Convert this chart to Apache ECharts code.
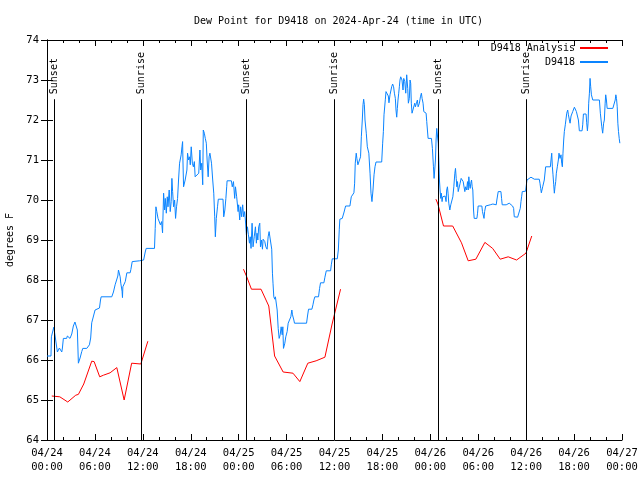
<!DOCTYPE html>
<html>
<head>
<meta charset="utf-8">
<script src="https://cdn.jsdelivr.net/npm/echarts@6/dist/echarts.min.js"></script>
<style>html,body{margin:0;padding:0;background:#fff}#c{width:640px;height:480px}</style>
</head>
<body>
<div id="c"></div>
<script>
// Hours since 2024-04-24 00:00 UTC, dew point in degrees F
const xTickLabels = ['04/24\n00:00','04/24\n06:00','04/24\n12:00','04/24\n18:00','04/25\n00:00','04/25\n06:00','04/25\n12:00','04/25\n18:00','04/26\n00:00','04/26\n06:00','04/26\n12:00','04/26\n18:00','04/27\n00:00'];
const yTicks = [64,65,66,67,68,69,70,71,72,73,74];

const analysisDay1 = [[0.6,65.1],[1.6,65.08],[2.6,64.95],[3.6,65.12],[3.93,65.14],[4.6,65.4],[4.85,65.42],[5.6,65.97],[5.9,65.96],[6.6,65.58],[7.07,65.62],[7.9,65.68],[8.74,65.81],[8.95,65.8],[9.66,65.0],[9.9,65.02],[10.6,65.92],[11.75,65.9],[12.63,66.47]];
const analysisDay2 = [[24.6,68.27],[24.97,68.1],[25.6,67.77],[26.8,67.77],[27.77,67.35],[28.5,66.1],[29.57,65.7],[30.8,65.67],[31.66,65.46],[32.66,65.92],[33.7,65.98],[34.8,66.07],[35.7,66.9],[36.76,67.77]];
const analysisDay3 = [[48.7,70.02],[48.95,69.9],[49.65,69.35],[50.8,69.35],[51.9,68.93],[52.74,68.48],[53.7,68.52],[54.83,68.94],[55.8,68.79],[56.75,68.52],[57.75,68.58],[58.8,68.5],[59.97,68.67],[60.7,69.1]];

const observations = [
[0.0,66.1],[0.5,66.1],[0.55,66.58],[0.75,66.58],[0.85,66.82],[0.9,66.82],[1.05,66.55],[1.3,66.2],[1.42,66.2],[1.55,66.3],[1.72,66.3],[1.85,66.2],[1.93,66.3],[2.05,66.54],[2.46,66.54],[2.55,66.6],[2.8,66.6],[2.88,66.54],[3.1,66.65],[3.3,66.85],[3.5,66.95],[3.72,66.95],[3.8,66.75],[3.93,65.92],[4.14,66.05],[4.35,66.21],[4.48,66.29],[4.98,66.29],[5.06,66.25],[5.31,66.38],[5.47,66.55],[5.6,66.93],[5.81,66.93],[6.02,67.25],[6.15,67.3],[6.57,67.3],[6.7,67.5],[6.78,67.58],[8.11,67.58],[8.32,67.7],[8.53,67.88],[8.66,67.93],[8.74,67.92],[8.87,68.1],[8.95,68.25],[9.07,68.25],[9.16,68.08],[9.24,67.92],[9.4,67.72],[9.45,67.56],[9.5,67.83],[9.66,67.85],[9.8,67.96],[10.0,68.18],[10.41,68.18],[10.5,68.26],[10.67,68.46],[10.83,68.48],[11.58,68.48],[11.75,68.5],[12.1,68.5],[12.3,68.7],[12.42,68.79],[13.46,68.79],[13.55,69.29],[13.64,69.83],[13.75,69.71],[13.9,69.54],[14.1,69.5],[14.2,69.38],[14.35,69.46],[14.47,69.18],[14.6,70.17],[14.73,69.75],[14.81,70.04],[14.94,69.67],[15.06,70.08],[15.15,69.83],[15.3,70.25],[15.43,69.71],[15.55,69.96],[15.64,70.54],[15.73,70.21],[15.85,69.83],[15.98,70.0],[16.1,69.54],[16.22,69.83],[16.35,70.04],[16.47,70.5],[16.6,70.92],[16.7,70.92],[16.8,71.13],[16.9,71.33],[16.98,71.46],[17.02,71.0],[17.1,70.33],[17.3,70.5],[17.45,70.54],[17.52,70.75],[17.6,71.17],[17.73,71.0],[17.85,71.08],[17.94,70.88],[18.06,71.33],[18.2,70.92],[18.33,70.83],[18.45,70.96],[18.55,70.58],[18.8,70.58],[19.0,70.67],[19.15,71.25],[19.25,70.75],[19.38,70.92],[19.5,70.38],[19.57,71.75],[19.7,71.67],[19.82,71.54],[19.95,71.42],[20.05,71.0],[20.18,70.58],[20.3,71.08],[20.4,71.17],[20.5,71.21],[20.6,70.92],[20.75,70.5],[20.88,70.17],[21.0,69.58],[21.08,69.08],[21.2,69.54],[21.35,69.83],[21.45,70.02],[22.04,70.02],[22.13,69.58],[22.27,69.75],[22.4,70.04],[22.5,70.33],[22.55,70.48],[23.09,70.48],[23.2,70.33],[23.35,70.46],[23.5,70.04],[23.6,70.33],[23.75,70.08],[23.93,69.71],[24.0,69.88],[24.13,69.5],[24.25,69.83],[24.38,69.58],[24.5,69.88],[24.62,69.58],[24.75,69.71],[24.84,69.5],[24.97,69.13],[25.1,69.33],[25.22,69.13],[25.35,68.92],[25.45,69.08],[25.55,68.79],[25.68,69.42],[25.8,68.83],[25.95,69.08],[26.1,69.33],[26.22,68.92],[26.3,69.17],[26.4,69.0],[26.51,69.33],[26.64,69.42],[26.73,68.83],[26.85,69.0],[26.98,68.77],[27.06,69.02],[27.27,68.96],[27.4,68.83],[27.56,68.77],[27.69,69.08],[27.81,69.21],[27.98,69.17],[28.14,68.77],[28.23,68.17],[28.3,67.92],[28.4,67.58],[28.52,67.52],[28.6,67.58],[28.72,67.58],[28.82,67.25],[28.95,66.79],[29.07,66.54],[29.2,66.63],[29.32,66.83],[29.45,66.63],[29.53,66.83],[29.61,66.29],[29.78,66.42],[29.9,66.58],[30.07,66.71],[30.2,66.92],[30.41,66.92],[30.53,67.08],[30.66,67.25],[30.74,67.13],[30.91,67.0],[30.99,66.92],[32.5,66.92],[32.62,67.1],[32.75,67.27],[33.17,67.27],[33.3,67.38],[33.42,67.5],[33.54,67.58],[34.0,67.58],[34.13,67.79],[34.25,67.93],[34.67,67.93],[34.8,68.07],[34.97,68.23],[35.51,68.23],[35.6,68.38],[35.72,68.53],[36.35,68.53],[36.48,68.75],[36.6,69.27],[36.67,69.52],[36.97,69.54],[37.2,69.7],[37.39,69.85],[37.93,69.85],[38.1,70.08],[38.43,70.18],[38.52,70.42],[38.6,70.92],[38.72,71.17],[38.8,71.04],[38.93,70.88],[39.18,70.88],[39.26,71.08],[39.36,71.58],[39.48,72.0],[39.57,72.38],[39.65,72.52],[39.74,72.38],[39.82,72.0],[39.98,71.67],[40.11,71.33],[40.3,71.17],[40.45,70.67],[40.57,70.17],[40.69,69.96],[40.82,70.25],[40.95,70.63],[41.07,70.83],[41.2,70.95],[41.91,70.95],[42.03,71.42],[42.12,71.71],[42.2,72.13],[42.37,72.52],[42.45,72.71],[42.62,72.71],[42.74,72.6],[42.82,72.43],[42.95,72.63],[43.08,72.58],[43.16,72.83],[43.28,72.9],[43.4,72.83],[43.5,72.67],[43.62,72.54],[43.7,72.25],[43.79,72.07],[43.87,72.29],[43.95,72.5],[44.04,72.67],[44.12,72.83],[44.2,73.0],[44.29,73.08],[44.37,73.13],[44.45,73.0],[44.58,72.75],[44.67,73.04],[44.8,72.96],[44.92,72.67],[45.04,73.13],[45.17,72.79],[45.25,72.42],[45.37,72.54],[45.46,73.0],[45.54,72.92],[45.62,72.42],[45.71,72.17],[45.83,72.17],[45.96,72.21],[46.05,72.42],[46.13,72.33],[46.26,72.42],[46.38,72.5],[46.47,72.33],[46.55,72.37],[46.63,72.42],[46.76,72.58],[46.88,72.67],[46.97,72.54],[47.09,72.42],[47.18,72.21],[47.3,72.17],[47.47,72.17],[47.55,71.96],[47.72,71.54],[48.14,71.54],[48.26,71.29],[48.39,70.83],[48.47,70.54],[48.55,70.75],[48.64,71.0],[48.72,71.5],[48.8,71.79],[48.9,71.75],[48.99,71.42],[49.06,71.0],[49.14,70.5],[49.22,70.25],[49.3,70.04],[49.38,70.17],[49.47,69.96],[49.55,70.08],[49.64,70.13],[49.73,70.04],[49.85,70.1],[49.97,69.96],[50.05,70.25],[50.14,70.33],[50.22,70.17],[50.31,69.92],[50.44,69.75],[50.56,69.88],[50.69,69.83],[50.82,70.08],[50.94,70.33],[51.07,70.67],[51.15,70.79],[51.24,70.54],[51.32,70.33],[51.4,70.46],[51.49,70.21],[51.57,70.25],[51.73,70.42],[51.86,70.54],[51.99,70.5],[52.11,70.46],[52.24,70.48],[52.32,70.21],[52.41,70.33],[52.53,70.25],[52.66,70.46],[52.74,70.25],[52.82,70.58],[52.91,70.38],[52.99,70.29],[53.07,70.42],[53.16,70.5],[53.24,70.33],[53.32,70.25],[53.41,69.75],[53.49,69.54],[53.83,69.54],[53.91,69.67],[53.99,69.85],[54.45,69.85],[54.53,69.71],[54.62,69.71],[54.72,69.54],[54.8,69.71],[54.93,69.85],[55.0,69.88],[55.5,69.88],[55.58,69.9],[55.83,69.9],[56.0,69.88],[56.25,69.88],[56.33,70.0],[56.5,70.21],[56.84,70.21],[56.92,70.04],[57.0,69.88],[57.5,69.88],[57.67,69.9],[57.88,69.92],[58.09,69.88],[58.3,69.85],[58.43,69.79],[58.51,69.58],[58.93,69.57],[59.18,69.54],[59.26,69.79],[59.35,69.96],[59.43,70.08],[59.51,70.21],[59.76,70.21],[59.93,70.22],[60.1,70.5],[60.27,70.52],[60.6,70.57],[60.85,70.57],[61.02,70.52],[61.64,70.52],[61.73,70.42],[61.82,70.29],[61.9,70.18],[61.98,70.25],[62.07,70.33],[62.27,70.5],[62.44,70.83],[63.03,70.83],[63.11,71.0],[63.2,71.17],[63.28,70.83],[63.36,70.63],[63.45,70.38],[63.53,70.17],[63.61,70.33],[63.7,70.46],[63.78,70.67],[63.9,70.83],[64.03,71.0],[64.11,71.17],[64.24,71.04],[64.36,71.13],[64.45,70.92],[64.53,70.83],[64.61,71.17],[64.7,71.5],[64.78,71.71],[64.9,71.88],[64.99,71.92],[65.08,72.17],[65.2,72.25],[65.29,72.13],[65.41,72.0],[65.5,71.92],[65.62,72.1],[65.83,72.21],[66.04,72.32],[66.16,72.27],[66.29,72.21],[66.46,72.18],[66.54,72.0],[66.66,71.73],[67.0,71.73],[67.08,71.88],[67.17,72.15],[67.5,72.15],[67.58,71.93],[67.67,71.73],[67.75,71.92],[67.83,72.42],[67.92,72.67],[68.0,73.04],[68.08,72.83],[68.17,72.63],[68.34,72.5],[69.17,72.5],[69.29,72.17],[69.47,71.83],[69.58,71.67],[69.7,71.92],[69.79,72.0],[69.89,72.42],[69.96,72.63],[70.05,72.5],[70.14,72.29],[70.85,72.29],[71.06,72.29],[71.15,72.5],[71.23,72.63],[71.31,72.54],[71.4,72.33],[71.48,71.92],[71.56,71.71],[71.65,71.54],[71.73,71.42]
];

const eventTimes = [0.92, 11.83, 24.95, 35.92, 48.97, 60.0];
const eventNames = ['Sunset','Sunrise','Sunset','Sunrise','Sunset','Sunrise'];
const eventLineTop = 72.52;

const FONT = 'DejaVu Sans Mono';
const chart = echarts.init(document.getElementById('c'), null, {renderer: 'canvas'});

const xBase = {
  type: 'value', min: 0, max: 72, interval: 6,
  axisLine: {show: true, lineStyle: {color: '#000', width: 1}},
  axisTick: {show: true, inside: true, length: 6, lineStyle: {color: '#000'}},
  minorTick: {show: true, splitNumber: 3, length: 3, lineStyle: {color: '#000'}},
  splitLine: {show: false}, minorSplitLine: {show: false}
};
const yBase = {
  type: 'value', min: 64, max: 74, interval: 1,
  axisLine: {show: true, lineStyle: {color: '#000', width: 1}},
  axisTick: {show: true, inside: true, length: 6, lineStyle: {color: '#000'}},
  splitLine: {show: false}
};

const redStyle = {type: 'line', name: 'D9418 Analysis', symbol: 'none', color: '#ff0000',
  lineStyle: {color: '#ff0000', width: 1}, xAxisIndex: 0, yAxisIndex: 0, z: 3};

chart.setOption({
  animation: false,
  backgroundColor: '#ffffff',
  title: {
    text: 'Dew Point for D9418 on 2024-Apr-24 (time in UTC)',
    left: 189, top: 11,
    textStyle: {fontFamily: FONT, fontSize: 10, fontWeight: 'normal', color: '#000'}
  },
  legend: {
    orient: 'vertical', right: 31, top: 43, padding: 0, itemGap: 4,
    align: 'right', itemWidth: 28, itemHeight: 9,
    itemStyle: {opacity: 0},
    data: ['D9418 Analysis', 'D9418'],
    textStyle: {fontFamily: FONT, fontSize: 10, color: '#000'}
  },
  grid: {left: 47, right: 18, top: 40, bottom: 40, containLabel: false, outerBoundsMode: 'none'},
  xAxis: [
    Object.assign({}, xBase, {
      position: 'bottom',
      axisLabel: {show: true, fontFamily: FONT, fontSize: 10.5, color: '#000', lineHeight: 14, margin: 6,
        formatter: v => xTickLabels[Math.round(v / 6)]}
    }),
    Object.assign({}, xBase, {position: 'top', axisLabel: {show: false}})
  ],
  yAxis: [
    Object.assign({}, yBase, {
      position: 'left',
      name: 'degrees F', nameLocation: 'middle', nameGap: 32, nameRotate: 90,
      nameTextStyle: {fontFamily: FONT, fontSize: 10, color: '#000'},
      axisLabel: {show: true, fontFamily: FONT, fontSize: 10.5, color: '#000', margin: 8,
        formatter: v => String(yTicks[yTicks.indexOf(v)])}
    }),
    Object.assign({}, yBase, {position: 'right', axisLabel: {show: false}})
  ],
  series: [
    Object.assign({}, redStyle, {data: analysisDay1}),
    Object.assign({}, redStyle, {data: analysisDay2}),
    Object.assign({}, redStyle, {data: analysisDay3}),
    {
      type: 'line', name: 'D9418', symbol: 'none', color: '#0a84ff',
      lineStyle: {color: '#0a84ff', width: 1}, data: observations, z: 2
    },
    {
      type: 'custom', name: 'events', xAxisIndex: 0, yAxisIndex: 0, z: 4,
      data: eventTimes.map(t => [t]),
      encode: {x: 0},
      renderItem: function (params, api) {
        const t = api.value(0);
        const p0 = api.coord([t, 64]);
        const p1 = api.coord([t, eventLineTop]);
        const x = Math.round(p0[0]) + 0.5;
        return {
          type: 'group',
          children: [
            {type: 'line', shape: {x1: x, y1: p0[1], x2: x, y2: p1[1]},
              style: {stroke: '#000', lineWidth: 1}},
            {type: 'text', x: x, y: p1[1] - 5, rotation: Math.PI / 2,
              style: {text: eventNames[params.dataIndex], fill: '#000',
                font: '10px ' + FONT, align: 'left', verticalAlign: 'middle'}}
          ]
        };
      }
    }
  ]
});
</script>
</body>
</html>
